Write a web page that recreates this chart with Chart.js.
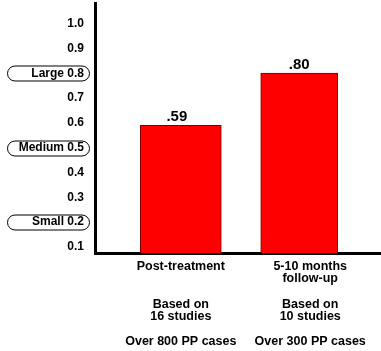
<!DOCTYPE html>
<html>
<head>
<meta charset="utf-8">
<script src="https://cdn.jsdelivr.net/npm/chart.js@4"></script>
<style>
  html, body { margin: 0; padding: 0; background: #fff; }
  #wrap { width: 381px; height: 351px; position: relative; }
</style>
</head>
<body>
<div id="wrap"><canvas id="chart"></canvas></div>
<script>
// Effect sizes by measurement point
const categories = ['Post-treatment', '5-10 months follow-up'];
const effectSizes = [0.59, 0.80];

// Multi-line labels under each bar
const xTickLabels = [
  ['Post-treatment', '', '', 'Based on', '16 studies', '', 'Over 800 PP cases'],
  ['5-10 months', 'follow-up', '', 'Based on', '10 studies', '', 'Over 300 PP cases']
];

// Value axis ticks, with the conventional benchmarks named
const yTickValues = [0.1, 0.2, 0.3, 0.4, 0.5, 0.6, 0.7, 0.8, 0.9, 1.0];
const yTickLabels = ['0.1', 'Small 0.2', '0.3', '0.4', 'Medium 0.5', '0.6', '0.7', 'Large 0.8', '0.9', '1.0'];

const FONT = "'Liberation Sans', Arial, Helvetica, sans-serif";
Chart.defaults.font.family = FONT;
Chart.defaults.color = '#000';

// Layout tweaks (pixels): bar widths, label nudges
const barWidths = [81, 77];
const categoryLabelShift = [0, 11];
const valueLabelShift = [-4, 0];

// Rounded outline around the named benchmark ticks
const benchmarkPills = {
  id: 'benchmarkPills',
  afterDraw(chart) {
    const y = chart.scales.y;
    const ctx = chart.ctx;
    ctx.save();
    ctx.strokeStyle = '#000';
    ctx.lineWidth = 1;
    y.ticks.forEach((t, i) => {
      if (!/[A-Za-z]/.test(yTickLabels[i])) return;
      const cy = Math.round(y.getPixelForValue(t.value)) + 0.5;
      const left = y.left + 7.5, right = y.right - 5.5, r = 7.5;
      ctx.beginPath();
      ctx.moveTo(left + r, cy - r);
      ctx.lineTo(right - r, cy - r);
      ctx.arc(right - r, cy, r, -Math.PI / 2, Math.PI / 2);
      ctx.lineTo(left + r, cy + r);
      ctx.arc(left + r, cy, r, Math.PI / 2, Math.PI * 1.5);
      ctx.closePath();
      ctx.stroke();
    });
    ctx.restore();
  }
};

// Effect size printed above each bar
const barValues = {
  id: 'barValues',
  afterDatasetsDraw(chart) {
    const ctx = chart.ctx;
    ctx.save();
    ctx.font = 'bold 15px ' + FONT;
    ctx.fillStyle = '#000';
    ctx.textAlign = 'center';
    ctx.textBaseline = 'alphabetic';
    chart.data.datasets.forEach((ds, di) => {
      chart.getDatasetMeta(di).data.forEach((el, j) => {
        const v = ds.data[j].y;
        ctx.fillText(v.toFixed(2).replace(/^0/, ''), el.x + valueLabelShift[di], el.y - 4);
      });
    });
    ctx.restore();
  }
};

new Chart(document.getElementById('chart'), {
  type: 'bar',
  data: {
    datasets: categories.map((name, i) => ({
      label: name,
      data: [{ x: i, y: effectSizes[i] }],
      backgroundColor: '#ff0000',
      borderColor: '#7a0000',
      borderWidth: 1,
      barThickness: barWidths[i],
      grouped: false,
      clip: 0
    }))
  },
  options: {
    responsive: true,
    maintainAspectRatio: false,
    animation: false,
    layout: { padding: { top: 3, right: 0, left: 0, bottom: 0 } },
    plugins: {
      legend: { display: false },
      tooltip: { enabled: false }
    },
    scales: {
      x: {
        type: 'linear',
        offset: false,
        bounds: 'data',
        grace: 0,
        min: -0.7246,
        max: 1.6907,
        z: 1,
        grid: { display: false, drawTicks: false, offset: false },
        border: { display: true, color: '#000', width: 3 },
        afterBuildTicks(scale) {
          const unit = (scale.right - scale.left) / (scale.max - scale.min) || 118;
          scale.ticks = categories.map((c, i) => ({ value: i + categoryLabelShift[i] / unit }));
        },
        afterFit(scale) { scale.height = 98; },
        ticks: {
          autoSkip: false,
          maxRotation: 0,
          padding: 7,
          color: '#000',
          font: { size: 12.5, weight: 'bold', lineHeight: 1.008 },
          callback: (v, i) => xTickLabels[i]
        }
      },
      y: {
        min: 0.075,
        max: 1.083,
        z: 1,
        grid: { display: false, drawTicks: false },
        border: { display: true, color: '#000', width: 3 },
        afterBuildTicks(scale) {
          scale.ticks = yTickValues.map(v => ({ value: v }));
        },
        afterFit(scale) {
          scale.width = 95;
          scale.paddingTop = 0;
          scale.paddingBottom = 0;
        },
        ticks: {
          autoSkip: false,
          padding: 11,
          color: '#000',
          font: { size: 12, weight: 'bold' },
          callback: (v, i) => yTickLabels[i]
        }
      }
    }
  },
  plugins: [benchmarkPills, barValues]
});
</script>
</body>
</html>
